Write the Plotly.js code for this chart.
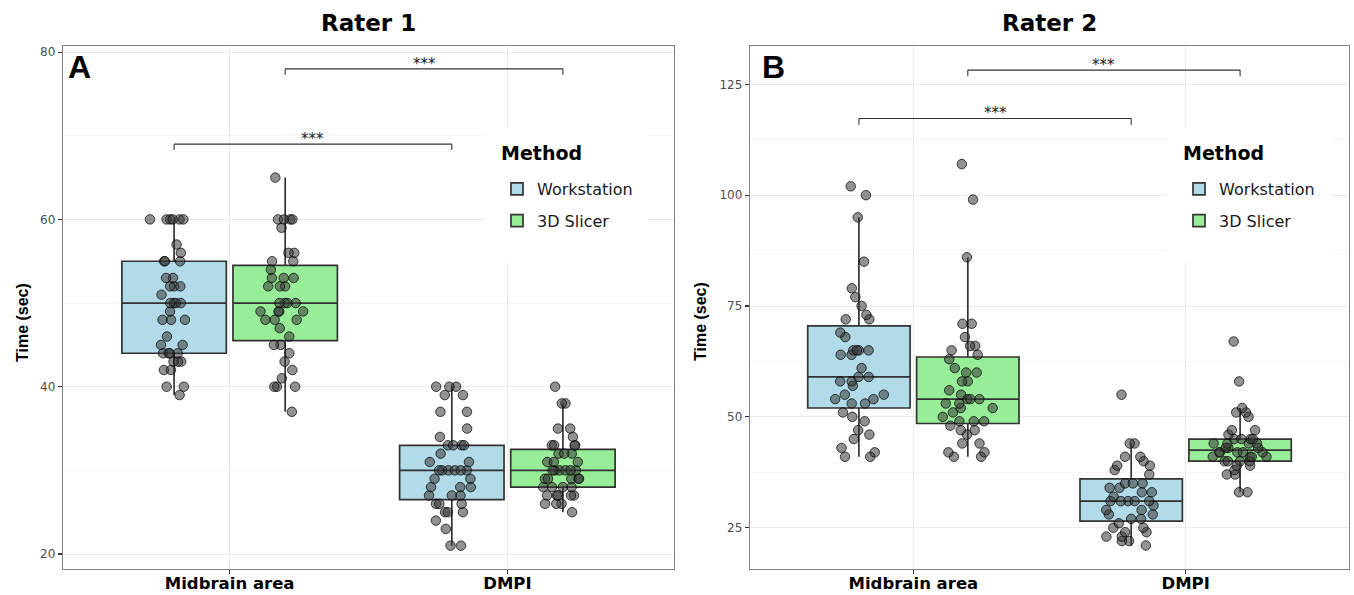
<!DOCTYPE html>
<html>
<head>
<meta charset="utf-8">
<script src="https://cdn.plot.ly/plotly-3.0.1.min.js"></script>
<style>html,body{margin:0;padding:0;background:#fff;}#chart{width:1354px;height:595px;}</style>
</head>
<body>
<div id="chart"></div>
<script>
// ---------- data ----------
const categories = ['Midbrain area', 'DMPI'];
const methods = ['Workstation', '3D Slicer'];

// Rater 1 (seconds)
const r1WorkstationMidbrain = [39,40,40,42,42,43,43,43,44,44,44,44,45,45,46,48,48,48,49,50,50,50,50,51,52,52,52,53,53,55,55,55,56,57,60,60,60,60,60,60];
const r1SlicerMidbrain      = [37,40,40,40,41,42,43,44,45,45,46,47,48,48,48,49,49,49,49,50,50,50,50,52,52,52,53,53,53,54,55,55,56,56,59,60,60,60,60,65];
const r1WorkstationDMPI     = [21,21,23,24,25,25,25,26,26,26,27,27,27,28,28,28,29,29,30,30,30,30,30,30,31,31,32,33,33,33,33,34,35,37,37,39,39,40,40,40];
const r1SlicerDMPI          = [25,26,26,26,27,27,27,27,27,28,28,28,28,29,29,29,29,29,30,30,30,30,30,30,31,31,31,32,32,32,33,33,33,33,34,35,35,38,38,40];

// Rater 2 (seconds)
const r2WorkstationMidbrain = [41,41,42,43,45,46,47,49,50,51,53,53,54,54,55,55,57,58,58,59,59,61,64,64,65,65,65,65,68,69,72,72,73,75,77,79,85,95,100,102];
const r2SlicerMidbrain      = [41,41,42,42,44,44,46,47,47,48,49,49,49,50,51,52,52,53,53,54,54,54,55,56,58,58,60,60,61,63,64,65,66,66,68,71,71,86,99,107];
const r2WorkstationDMPI     = [21,22,22,23,23,24,24,25,25,26,27,27,28,28,29,29,30,31,31,31,31,31,32,33,33,34,34,35,35,35,37,38,39,39,40,41,41,44,44,55];
const r2SlicerDMPI          = [33,33,37,37,38,39,39,40,40,40,40,41,41,41,41,42,42,42,42,42,43,43,43,44,44,44,44,45,45,45,45,46,47,47,50,51,51,52,58,67];

// axis ticks
const r1Ticks = [20, 40, 60, 80];
const r1MinorTicks = [30, 50, 70];
const r2Ticks = [25, 50, 75, 100, 125];
const r2MinorTicks = [37.5, 62.5, 87.5, 112.5];

// significance comparisons (group offsets within category axis)
const r1Comparisons = [{x0: -0.2, x1: 0.8, y: 69, label: '***'}, {x0: 0.2, x1: 1.2, y: 78, label: '***'}];
const r2Comparisons = [{x0: -0.2, x1: 0.8, y: 117.3, label: '***'}, {x0: 0.2, x1: 1.2, y: 128.2, label: '***'}];

// ---------- styling ----------
const FONT = 'DejaVu Sans, Liberation Sans, Arial, sans-serif';
const BOLDSANS = 'Liberation Sans, Arial, sans-serif';
const fills = ['#b1dbe8', '#98ee98'];
const W = 1354, H = 595, ML = 63, MR = 5, MT = 46, MB = 26;
const px2x = p => (p - ML) / (W - ML - MR);
const py2y = p => (H - MB - p) / (H - MT - MB);

function boxTrace(name, idx, mid, dmpi, xa, ya, legend, panel) {
  const x = [], y = [];
  mid.forEach(v => { x.push(categories[0]); y.push(v); });
  dmpi.forEach(v => { x.push(categories[1]); y.push(v); });
  return {
    type: 'box', name: name, x: x, y: y, xaxis: xa, yaxis: ya,
    legend: legend, legendgroup: name + legend, showlegend: true,
    alignmentgroup: panel, offsetgroup: panel + idx,
    boxpoints: 'all', jitter: 0.55, pointpos: 0, whiskerwidth: 0,
    fillcolor: fills[idx],
    line: {color: '#333333', width: 1.7},
    marker: {size: 9.5, color: 'rgba(55,55,55,0.55)', line: {color: 'rgba(0,0,0,0.7)', width: 1}},
    hoverinfo: 'skip'
  };
}

const traces = [
  boxTrace(methods[0], 0, r1WorkstationMidbrain, r1WorkstationDMPI, 'x', 'y', 'legend', 'r1'),
  boxTrace(methods[1], 1, r1SlicerMidbrain, r1SlicerDMPI, 'x', 'y', 'legend', 'r1'),
  boxTrace(methods[0], 0, r2WorkstationMidbrain, r2WorkstationDMPI, 'x2', 'y2', 'legend2', 'r2'),
  boxTrace(methods[1], 1, r2SlicerMidbrain, r2SlicerDMPI, 'x2', 'y2', 'legend2', 'r2')
];

function xAxis(domain, anchor) {
  return {
    domain: domain, anchor: anchor, type: 'category', categoryarray: categories, categoryorder: 'array',
    range: [-0.6, 1.6], showgrid: true, gridcolor: '#ebebeb', gridwidth: 1.2,
    showline: true, mirror: true, linecolor: '#808080', linewidth: 1.2,
    ticks: 'outside', ticklen: 4, tickcolor: '#333', tickwidth: 1.2, ticklabelstandoff: -5,
    tickfont: {family: FONT, size: 16.5, color: '#000', weight: 'bold'}, zeroline: false, fixedrange: true
  };
}
function yAxis(range, ticks, minorTicks, anchor) {
  return {
    domain: [0, 1], anchor: anchor, range: range, tickmode: 'array', tickvals: ticks,
    showgrid: true, gridcolor: '#ebebeb', gridwidth: 1,
    minor: {tickmode: 'array', tickvals: minorTicks, showgrid: true, gridcolor: '#f2f2f2', gridwidth: 0.8, ticks: ''},
    showline: true, mirror: true, linecolor: '#808080', linewidth: 1.2,
    ticks: 'outside', ticklen: 4, tickcolor: '#333', tickwidth: 1.2,
    tickfont: {family: FONT, size: 12, color: '#4d4d4d'}, zeroline: false, fixedrange: true
  };
}

const shapes = [], annotations = [];
function addBrackets(list, xref, yref, drop) {
  list.forEach(c => {
    const ln = {type: 'line', xref: xref, yref: yref, line: {color: '#333', width: 1.1}};
    shapes.push(Object.assign({}, ln, {x0: c.x0, x1: c.x1, y0: c.y, y1: c.y}));
    shapes.push(Object.assign({}, ln, {x0: c.x0, x1: c.x0, y0: c.y, y1: c.y - drop}));
    shapes.push(Object.assign({}, ln, {x0: c.x1, x1: c.x1, y0: c.y, y1: c.y - drop}));
    annotations.push({xref: xref, yref: yref, x: (c.x0 + c.x1) / 2, y: c.y, text: c.label, showarrow: false,
      yanchor: 'bottom', yshift: -6, font: {family: FONT, size: 15, color: '#222'}});
  });
}
addBrackets(r1Comparisons, 'x', 'y', 0.7);
addBrackets(r2Comparisons, 'x2', 'y2', 1.4);

// legend backgrounds (cover gridlines like the ggplot legend box)
[[485, 648], [1167, 1331]].forEach(r => {
  shapes.push({type: 'rect', xref: 'paper', yref: 'paper', x0: px2x(r[0]), x1: px2x(r[1]), y0: py2y(128), y1: py2y(262),
    fillcolor: '#ffffff', line: {width: 0}, layer: 'above'});
});

const panelText = [
  {t: 'Rater 1', x: 368.5, y: 23, size: 23, fam: FONT, anchor: 'center'},
  {t: 'Rater 2', x: 1049.5, y: 23, size: 23, fam: FONT, anchor: 'center'},
  {t: 'A', x: 66, y: 67, size: 32, fam: BOLDSANS, anchor: 'left'},
  {t: 'B', x: 760, y: 67, size: 32, fam: BOLDSANS, anchor: 'left'},
  {t: 'Method', x: 499, y: 153, size: 19, fam: FONT, anchor: 'left'},
  {t: 'Method', x: 1181, y: 153, size: 19, fam: FONT, anchor: 'left'}
];
panelText.forEach(p => annotations.push({xref: 'paper', yref: 'paper', x: px2x(p.x), y: py2y(p.y), text: p.t, showarrow: false,
  xanchor: p.anchor, yanchor: 'middle', font: {family: p.fam, size: p.size, color: '#000', weight: 'bold'}}));

[22, 700].forEach(xp => annotations.push({xref: 'paper', yref: 'paper', x: px2x(xp), y: py2y(322), text: 'Time (sec)',
  textangle: -90, showarrow: false, xanchor: 'center', yanchor: 'middle',
  font: {family: BOLDSANS, size: 16, color: '#000', weight: 'bold'}}));

function legendCfg(leftPx) {
  return {
    x: px2x(leftPx), y: py2y(172), xanchor: 'left', yanchor: 'top', xref: 'paper', yref: 'paper',
    bgcolor: 'rgba(0,0,0,0)', borderwidth: 0, font: {family: FONT, size: 16, color: '#1a1a1a'},
    tracegroupgap: 8, itemwidth: 30
  };
}

const layout = {
  width: W, height: H, margin: {l: ML, r: MR, t: MT, b: MB},
  paper_bgcolor: '#fff', plot_bgcolor: '#fff',
  boxmode: 'group', boxgap: 0.2, boxgroupgap: 0.06,
  xaxis: xAxis([0, px2x(674)], 'y'),
  yaxis: yAxis([18.21, 80.73], r1Ticks, r1MinorTicks, 'x'),
  xaxis2: xAxis([px2x(750), 1], 'y2'),
  yaxis2: yAxis([15.69, 133.64], r2Ticks, r2MinorTicks, 'x2'),
  legend: legendCfg(497),
  legend2: legendCfg(1179),
  shapes: shapes, annotations: annotations,
  font: {family: FONT}
};

Plotly.newPlot('chart', traces, layout, {staticPlot: true, displayModeBar: false});
</script>
</body>
</html>
